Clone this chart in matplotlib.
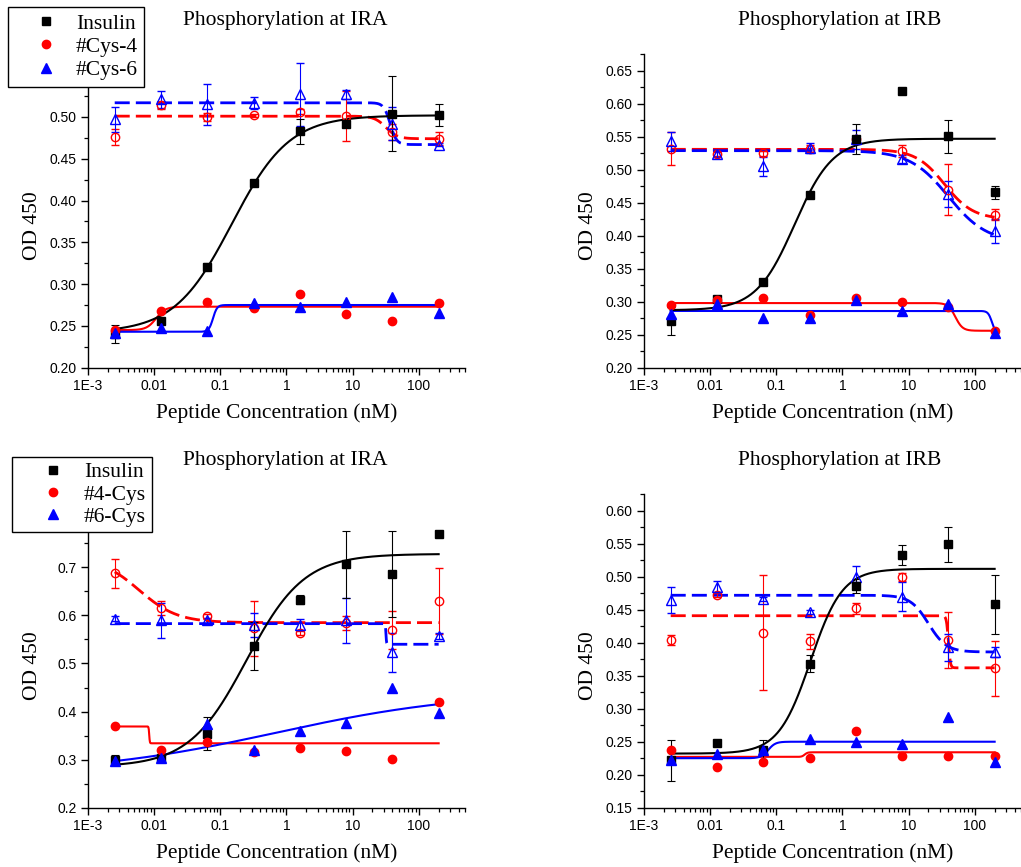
import numpy as np
import matplotlib
matplotlib.use('Agg')
import matplotlib.pyplot as plt
from matplotlib.ticker import FixedLocator, FixedFormatter, LogLocator, NullFormatter, MultipleLocator, FormatStrFormatter
from matplotlib.lines import Line2D

plt.rcParams['font.family'] = ['Liberation Serif', 'DejaVu Serif']

# ---------------- data ----------------
conc = [0.00256, 0.0128, 0.064, 0.32, 1.6, 8, 40, 200]

titles = ['Phosphorylation at IRA', 'Phosphorylation at IRB',
          'Phosphorylation at IRA', 'Phosphorylation at IRB']
legend_top = ['Insulin', '#Cys-4', '#Cys-6']
legend_bottom = ['Insulin', '#4-Cys', '#6-Cys']
xtick_vals = [1e-3, 1e-2, 1e-1, 1, 10, 100]
xtick_labels = ['1E-3', '0.01', '0.1', '1', '10', '100']

# Panel 1: IRA (top)
ins1 = [0.240, 0.256, 0.321, 0.421, 0.483, 0.492, 0.504, 0.502]
ins1_err = [0.011, 0.004, 0.004, 0.003, 0.015, 0.004, 0.045, 0.013]
red1_fill = [0.245, 0.268, 0.279, 0.271, 0.288, 0.264, 0.256, 0.278]
blue1_fill = [0.241, 0.247, 0.244, 0.278, 0.273, 0.279, 0.285, 0.265]
red1_open = [0.476, 0.514, 0.500, 0.502, 0.506, 0.501, 0.482, 0.474]
red1_open_err = [0.010, 0.004, 0.005, 0.002, 0.003, 0.030, 0.010, 0.008]
blue1_open = [0.497, 0.521, 0.515, 0.517, 0.527, 0.527, 0.492, 0.467]
blue1_open_err = [0.015, 0.010, 0.025, 0.007, 0.038, 0.005, 0.020, 0.002]

# Panel 2: IRB (top)
ins2 = [0.271, 0.304, 0.330, 0.461, 0.547, 0.619, 0.551, 0.466]
ins2_err = [0.021, 0.003, 0.003, 0.003, 0.023, 0.002, 0.025, 0.010]
red2_fill = [0.295, 0.303, 0.305, 0.280, 0.305, 0.299, 0.292, 0.256]
blue2_fill = [0.281, 0.297, 0.275, 0.275, 0.303, 0.286, 0.297, 0.252]
red2_open = [0.532, 0.524, 0.525, 0.532, 0.546, 0.529, 0.470, 0.432]
red2_open_err = [0.025, 0.003, 0.004, 0.005, 0.005, 0.009, 0.038, 0.008]
blue2_open = [0.543, 0.524, 0.505, 0.533, 0.546, 0.516, 0.463, 0.407]
blue2_open_err = [0.014, 0.004, 0.015, 0.007, 0.015, 0.006, 0.020, 0.018]

# Panel 3: IRA (bottom)
ins3 = [0.300, 0.304, 0.354, 0.537, 0.633, 0.706, 0.686, 0.770]
ins3_err = [0.010, 0.005, 0.034, 0.050, 0.010, 0.070, 0.090, 0.002]
red3_fill = [0.370, 0.321, 0.336, 0.316, 0.325, 0.318, 0.302, 0.420]
blue3_fill = [0.298, 0.303, 0.375, 0.321, 0.359, 0.377, 0.448, 0.396]
red3_open = [0.688, 0.616, 0.598, 0.573, 0.564, 0.584, 0.570, 0.630]
red3_open_err = [0.030, 0.015, 0.005, 0.058, 0.004, 0.015, 0.040, 0.068]
blue3_open = [0.593, 0.590, 0.590, 0.580, 0.581, 0.590, 0.523, 0.557]
blue3_open_err = [0.005, 0.036, 0.005, 0.025, 0.012, 0.047, 0.040, 0.007]

# Panel 4: IRB (bottom)
ins4 = [0.222, 0.248, 0.237, 0.368, 0.486, 0.533, 0.549, 0.458]
ins4_err = [0.031, 0.002, 0.015, 0.013, 0.010, 0.015, 0.027, 0.044]
red4_fill = [0.238, 0.211, 0.220, 0.225, 0.266, 0.228, 0.228, 0.228]
blue4_fill = [0.222, 0.232, 0.237, 0.254, 0.249, 0.246, 0.288, 0.220]
red4_open = [0.404, 0.472, 0.415, 0.402, 0.452, 0.500, 0.404, 0.361]
red4_open_err = [0.008, 0.003, 0.087, 0.012, 0.008, 0.006, 0.042, 0.041]
blue4_open = [0.465, 0.485, 0.466, 0.447, 0.500, 0.470, 0.393, 0.386]
blue4_open_err = [0.020, 0.008, 0.003, 0.003, 0.016, 0.022, 0.020, 0.008]

# Dose-response fit parameters (A1 low-dose level, A2 high-dose level, x0, Hill slope p)
fit1 = {'ins': (0.242, 0.502, 0.15, 1.0), 'red_fill': (0.245, 0.273, 0.0108, 6),
        'blue_fill': (0.243, 0.275, 0.078, 14), 'red_open': (0.501, 0.474, 32, 5),
        'blue_open': (0.517, 0.467, 37, 9)}
fit2 = {'ins': (0.287, 0.547, 0.19, 1.5), 'red_fill': (0.298, 0.256, 51, 8),
        'blue_fill': (0.286, 0.252, 182, 15), 'red_open': (0.531, 0.425, 35, 2),
        'blue_open': (0.529, 0.390, 40, 1.5)}
fit3 = {'ins': (0.285, 0.728, 0.25, 1.0), 'red_fill': (0.369, 0.334, 0.0085, 100),
        'blue_fill': (0.270, 0.442, 0.7, 0.3), 'red_open': (0.720, 0.585, 0.006, 1.5),
        'blue_open': (0.583, 0.540, 32, 100)}
fit4 = {'ins': (0.232, 0.512, 0.33, 1.8), 'red_fill': (0.227, 0.234, 0.27, 20),
        'blue_fill': (0.225, 0.250, 0.076, 8), 'red_open': (0.441, 0.362, 40, 30),
        'blue_open': (0.472, 0.386, 20, 3.2)}

panels = [
    dict(ins=ins1, ins_err=ins1_err, rf=red1_fill, bf=blue1_fill, ro=red1_open, ro_err=red1_open_err,
         bo=blue1_open, bo_err=blue1_open_err, fit=fit1, ylim=(0.2, 0.575), ystep=0.05, fmt='%.2f'),
    dict(ins=ins2, ins_err=ins2_err, rf=red2_fill, bf=blue2_fill, ro=red2_open, ro_err=red2_open_err,
         bo=blue2_open, bo_err=blue2_open_err, fit=fit2, ylim=(0.2, 0.675), ystep=0.05, fmt='%.2f'),
    dict(ins=ins3, ins_err=ins3_err, rf=red3_fill, bf=blue3_fill, ro=red3_open, ro_err=red3_open_err,
         bo=blue3_open, bo_err=blue3_open_err, fit=fit3, ylim=(0.2, 0.852), ystep=0.1, fmt='%.1f'),
    dict(ins=ins4, ins_err=ins4_err, rf=red4_fill, bf=blue4_fill, ro=red4_open, ro_err=red4_open_err,
         bo=blue4_open, bo_err=blue4_open_err, fit=fit4, ylim=(0.15, 0.625), ystep=0.05, fmt='%.2f'),
]


def dose_response(x, a1, a2, x0, p):
    with np.errstate(over='ignore'):
        return a2 + (a1 - a2) / (1.0 + (x / x0) ** p)


W, H = 1021, 867
fig = plt.figure(figsize=(W / 100, H / 100), dpi=100)

# axes rectangles in pixels: left, top, right, bottom
rects = [(87.7, 54.3, 465.0, 367.7), (643.7, 54.3, 1021.0, 367.7),
         (87.7, 494.3, 465.0, 807.7), (643.7, 494.3, 1021.0, 807.7)]
title_x = [0.523, 0.520, 0.523, 0.520]

BLACK, RED, BLUE = '#000000', '#ff0000', '#0000ff'
MS_SQ, MS_CI, MS_TR = 5.6, 6.0, 6.6
xfit = np.logspace(np.log10(conc[0]), np.log10(conc[-1]), 800)
x = np.array(conc)

for i, (pd, r) in enumerate(zip(panels, rects)):
    l, t, rr, b = r
    ax = fig.add_axes([l / W, (H - b) / H, (rr - l) / W, (b - t) / H])
    ax.set_xscale('log')
    ax.set_xlim(1e-3, 500)
    ax.set_ylim(*pd['ylim'])
    for s in ['top', 'right']:
        ax.spines[s].set_visible(False)
    for s in ['left', 'bottom']:
        ax.spines[s].set_linewidth(1.0)
    ax.xaxis.set_major_locator(FixedLocator(xtick_vals))
    ax.xaxis.set_major_formatter(FixedFormatter(xtick_labels))
    ax.xaxis.set_minor_locator(LogLocator(base=10, subs=np.arange(2, 10), numticks=20))
    ax.xaxis.set_minor_formatter(NullFormatter())
    ax.yaxis.set_major_locator(MultipleLocator(pd['ystep']))
    ax.yaxis.set_minor_locator(MultipleLocator(pd['ystep'] / 2))
    ax.yaxis.set_major_formatter(FormatStrFormatter(pd['fmt']))
    ax.tick_params(which='major', direction='out', length=5, width=1.0, labelsize=10,
                   labelfontfamily='Liberation Sans', pad=3)
    ax.tick_params(which='minor', direction='out', length=3, width=0.9)

    f = pd['fit']
    # fitted curves
    ax.plot(xfit, dose_response(xfit, *f['red_open']), color=RED, lw=2.0, ls=(0, (5.4, 2.2)), zorder=2)
    ax.plot(xfit, dose_response(xfit, *f['blue_open']), color=BLUE, lw=2.0, ls=(0, (5.4, 2.2)), zorder=2)
    ax.plot(xfit, dose_response(xfit, *f['red_fill']), color=RED, lw=1.5, zorder=2)
    ax.plot(xfit, dose_response(xfit, *f['blue_fill']), color=BLUE, lw=1.5, zorder=2)
    ax.plot(xfit, dose_response(xfit, *f['ins']), color=BLACK, lw=1.5, zorder=3)

    ekw = dict(capsize=3, elinewidth=0.8, capthick=0.8, ls='none', zorder=4)
    ax.errorbar(x, pd['ro'], yerr=pd['ro_err'], fmt='o', ms=MS_CI, mfc='none', mec=RED, mew=1.0,
                color=RED, **ekw)
    ax.errorbar(x, pd['bo'], yerr=pd['bo_err'], fmt='^', ms=MS_TR, mfc='none', mec=BLUE, mew=1.0,
                color=BLUE, **ekw)
    ax.plot(x, pd['rf'], 'o', ms=MS_CI, color=RED, ls='none', zorder=5)
    ax.plot(x, pd['bf'], '^', ms=MS_TR, color=BLUE, ls='none', zorder=5)
    ax.errorbar(x, pd['ins'], yerr=pd['ins_err'], fmt='s', ms=MS_SQ, color=BLACK, **ekw)

    ax.text(title_x[i], 1.092, titles[i], transform=ax.transAxes, ha='center', va='baseline',
            fontsize=15.5)
    ax.text(0.5, -0.161, 'Peptide Concentration (nM)', transform=ax.transAxes, ha='center',
            va='baseline', fontsize=15.5)
    ax.text(-0.135, 0.452, 'OD 450', transform=ax.transAxes, rotation=90, rotation_mode='anchor',
            ha='center', va='baseline', fontsize=15.5)

    if i in (0, 2):
        labels = legend_top if i == 0 else legend_bottom
        handles = [Line2D([], [], marker='s', ms=MS_SQ, color=BLACK, ls='none'),
                   Line2D([], [], marker='o', ms=MS_CI, color=RED, ls='none'),
                   Line2D([], [], marker='^', ms=MS_TR, color=BLUE, ls='none')]
        if i == 0:
            anchor = (8 / W, 1 - 7 / H)
            kw = dict(borderpad=0.3, labelspacing=0.15, handlelength=2.9, handletextpad=-0.05)
        else:
            anchor = (12 / W, 1 - 457 / H)
            kw = dict(borderpad=0.25, labelspacing=0.1, handlelength=3.3, handletextpad=-0.2)
        leg = ax.legend(handles, labels, loc='upper left', bbox_to_anchor=anchor,
                        bbox_transform=fig.transFigure, borderaxespad=0, frameon=True,
                        fancybox=False, edgecolor='black', framealpha=1, fontsize=15.5,
                        numpoints=1, **kw)
        leg.get_frame().set_linewidth(1.0)
        leg.set_zorder(20)

fig.savefig('out.png', dpi=100)
